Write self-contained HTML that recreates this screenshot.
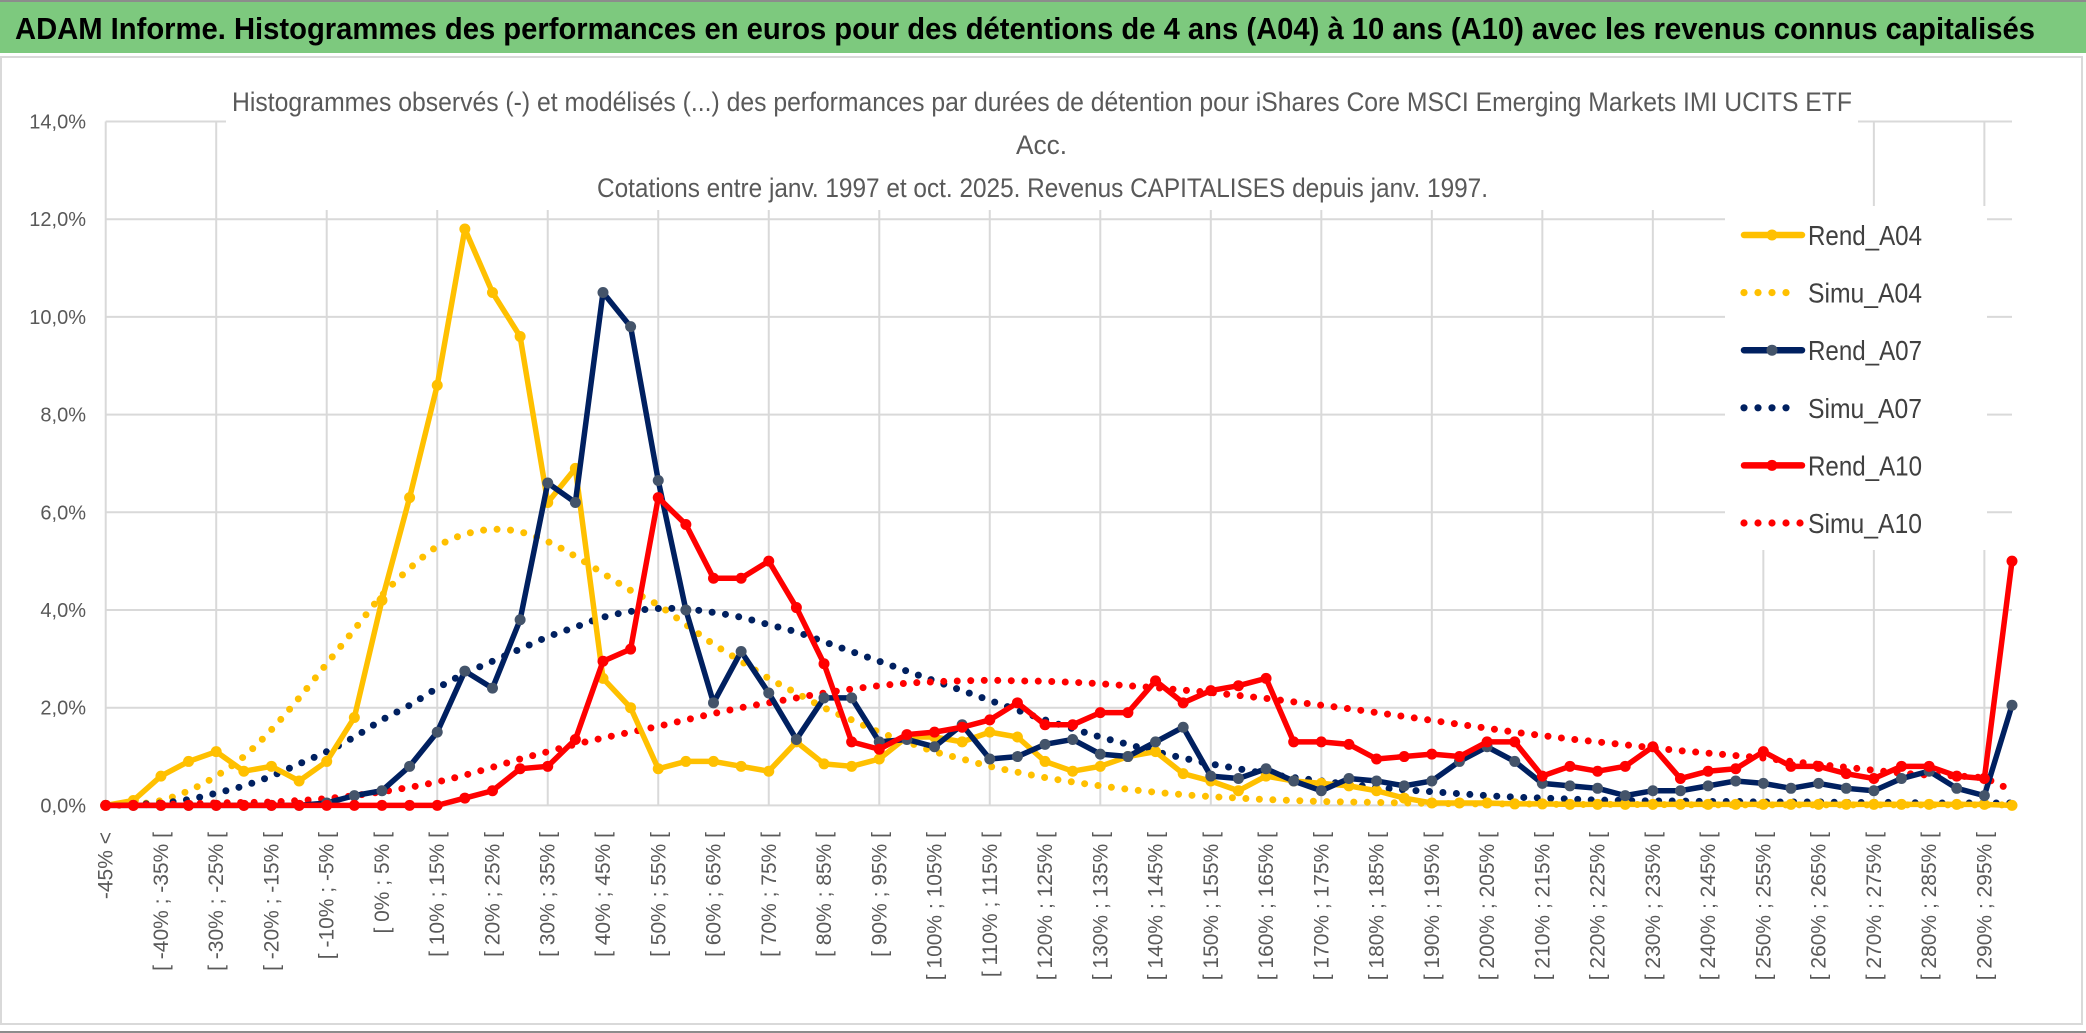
<!DOCTYPE html>
<html><head><meta charset="utf-8"><style>
html,body{margin:0;padding:0;background:#fff;}
svg{display:block;}
text{font-family:"Liberation Sans Narrow","Liberation Sans",sans-serif;}
</style></head><body>
<svg id="chart" width="2086" height="1033" viewBox="0 0 2086 1033" xmlns="http://www.w3.org/2000/svg">
<rect x="0" y="0" width="2086" height="1033" fill="#fff"/>
<rect x="1" y="57" width="2081" height="967" fill="#fff" stroke="#d9d9d9" stroke-width="2"/>
<rect x="0" y="2" width="2086" height="51" fill="#7dc97e"/>
<line x1="0" y1="1" x2="2086" y2="1" stroke="#8c8c8c" stroke-width="2"/>
<line x1="0" y1="1032" x2="2086" y2="1032" stroke="#8c8c8c" stroke-width="2"/>
<text x="15" y="39" font-size="31" font-weight="bold" fill="#000" textLength="2020" lengthAdjust="spacingAndGlyphs">ADAM Informe. Histogrammes des performances en euros pour des détentions de 4 ans (A04) à 10 ans (A10) avec les revenus connus capitalisés</text>
<g id="grid"></g>
<rect x="226" y="70" width="1632" height="140" fill="#fff"/>
<text x="232" y="111" font-size="27" fill="#595959" textLength="1620" lengthAdjust="spacingAndGlyphs">Histogrammes observés (-) et modélisés (...) des performances par durées de détention pour iShares Core MSCI Emerging Markets IMI UCITS ETF</text>
<text x="1016" y="154" font-size="27" fill="#595959" textLength="51" lengthAdjust="spacingAndGlyphs">Acc.</text>
<text x="597" y="197" font-size="27" fill="#595959" textLength="891" lengthAdjust="spacingAndGlyphs">Cotations entre janv. 1997 et oct. 2025. Revenus CAPITALISES depuis janv. 1997.</text>
<g id="yaxis"></g>
<g id="xaxis"></g>
<g id="series"></g>
<g id="legend"></g>
</svg>
<script>
const rendA04 = [0,0.1,0.6,0.9,1.1,0.7,0.8,0.5,0.9,1.8,4.2,6.3,8.6,11.8,10.5,9.6,6.2,6.9,2.6,2.0,0.75,0.9,0.9,0.8,0.7,1.3,0.85,0.8,0.95,1.4,1.4,1.3,1.5,1.4,0.9,0.7,0.8,1.0,1.1,0.65,0.5,0.3,0.6,0.5,0.45,0.4,0.3,0.15,0.05,0.05,0.05,0.03,0.03,0.02,0.02,0.02,0.02,0.02,0.02,0.02,0.02,0.02,0.02,0.02,0.02,0.02,0.02,0.02,0.02,0];
const simuA04 = [0,0.02,0.1,0.3,0.6,1.0,1.55,2.2,2.9,3.6,4.3,4.85,5.3,5.55,5.65,5.6,5.4,5.1,4.75,4.4,4.1,3.7,3.3,2.95,2.6,2.3,2.0,1.75,1.5,1.3,1.1,0.95,0.8,0.68,0.57,0.48,0.4,0.33,0.27,0.22,0.18,0.15,0.12,0.1,0.08,0.07,0.06,0.05,0.04,0.035,0.03,0.03,0.025,0.02,0.02,0.02,0.015,0.015,0.01,0.01,0.01,0.01,0.01,0.01,0.01,0.01,0.01,0.01,0.01,0.01];
const rendA07 = [0,0,0,0,0,0,0,0,0.05,0.2,0.3,0.8,1.5,2.75,2.4,3.8,6.6,6.2,10.5,9.8,6.65,4.0,2.1,3.15,2.3,1.35,2.2,2.2,1.3,1.35,1.2,1.65,0.95,1.0,1.25,1.35,1.05,1.0,1.3,1.6,0.6,0.55,0.75,0.5,0.3,0.55,0.5,0.4,0.5,0.9,1.2,0.9,0.45,0.4,0.35,0.2,0.3,0.3,0.4,0.5,0.45,0.35,0.45,0.35,0.3,0.55,0.7,0.35,0.2,2.05];
const simuA07 = [0,0.02,0.05,0.12,0.25,0.4,0.6,0.85,1.1,1.4,1.75,2.05,2.4,2.7,2.95,3.2,3.45,3.65,3.85,3.97,4.03,4.02,3.95,3.85,3.7,3.55,3.35,3.15,2.95,2.75,2.55,2.35,2.15,1.95,1.75,1.57,1.4,1.25,1.1,0.97,0.85,0.75,0.65,0.57,0.5,0.43,0.37,0.32,0.28,0.24,0.2,0.17,0.15,0.13,0.11,0.1,0.09,0.09,0.08,0.08,0.07,0.07,0.07,0.06,0.06,0.06,0.05,0.05,0.05,0.05];
const rendA10 = [0,0,0,0,0,0,0,0,0,0,0,0,0,0.15,0.3,0.75,0.8,1.35,2.95,3.2,6.3,5.75,4.65,4.65,5.0,4.05,2.9,1.3,1.15,1.45,1.5,1.6,1.75,2.1,1.65,1.65,1.9,1.9,2.55,2.1,2.35,2.45,2.6,1.3,1.3,1.25,0.95,1.0,1.05,1.0,1.3,1.3,0.6,0.8,0.7,0.8,1.2,0.55,0.7,0.75,1.1,0.8,0.8,0.65,0.55,0.8,0.8,0.6,0.55,5.0];
const simuA10 = [0,0.01,0.02,0.03,0.05,0.06,0.07,0.1,0.14,0.2,0.28,0.37,0.48,0.62,0.78,0.95,1.1,1.25,1.38,1.5,1.62,1.75,1.88,2.0,2.1,2.2,2.3,2.38,2.45,2.5,2.53,2.55,2.56,2.55,2.54,2.52,2.49,2.45,2.41,2.36,2.31,2.25,2.19,2.12,2.05,1.98,1.9,1.82,1.74,1.66,1.58,1.5,1.43,1.36,1.3,1.24,1.18,1.12,1.07,1.02,0.97,0.9,0.84,0.78,0.72,0.66,0.62,0.6,0.55,0.3];
const yTicks = [0,2,4,6,8,10,12,14];
const firstLabel = "-45% <";
const binStart = -45;
const binWidth = 5;

const NS = "http://www.w3.org/2000/svg";
const X0 = 105.7, X1 = 2012, Y0 = 805.4, PER = 48.85;
const N = rendA04.length;
function xs(i){ return X0 + i*(X1-X0)/(N-1); }
function ys(v){ return Y0 - v*PER; }
function mk(tag, attrs, parent){ const e=document.createElementNS(NS,tag); for(const k in attrs) e.setAttribute(k,attrs[k]); parent.appendChild(e); return e; }
function catLabel(i){
  if(i===0) return firstLabel;
  const lo = binStart + binWidth*(i-1);
  return "[ " + lo + "% ; " + (lo+binWidth) + "% [";
}

const grid = document.getElementById('grid');
yTicks.forEach(t=>{
  const l = mk('line',{x1:X0,x2:X1,y1:ys(t),y2:ys(t),stroke:'#d9d9d9','stroke-width':2},grid);
  
  
});
for(let i=0;i<N;i+=4){
  const l = mk('line',{x1:xs(i),x2:xs(i),y1:ys(14),y2:ys(0),stroke:'#d9d9d9','stroke-width':2},grid);
  
  
}
const yaxis = document.getElementById('yaxis');
yTicks.forEach(t=>{
  const tx = mk('text',{x:86,y:ys(t)+7,'text-anchor':'end','font-size':20,fill:'#595959'},yaxis);
  tx.textContent = t.toFixed(1).replace('.',',') + '%';
  
  
});
const xaxis = document.getElementById('xaxis');
for(let i=0;i<N;i+=2){
  const x = xs(i)+7;
  const tx = mk('text',{x:x,y:832,'text-anchor':'end','font-size':21,fill:'#595959',transform:'rotate(-90 '+x+' 832)'},xaxis);
  tx.textContent = catLabel(i);
  
  
}

function smoothPath(vals){
  const p = vals.map((v,i)=>[xs(i),ys(v)]);
  let d = 'M'+p[0][0]+','+p[0][1];
  for(let i=0;i<p.length-1;i++){
    const p0=p[Math.max(0,i-1)], p1=p[i], p2=p[i+1], p3=p[Math.min(p.length-1,i+2)];
    const c1x=p1[0]+(p2[0]-p0[0])/6, c1y=p1[1]+(p2[1]-p0[1])/6;
    const c2x=p2[0]-(p3[0]-p1[0])/6, c2y=p2[1]-(p3[1]-p1[1])/6;
    d += ' C'+c1x+','+c1y+' '+c2x+','+c2y+' '+p2[0]+','+p2[1];
  }
  return d;
}
const series = document.getElementById('series');
function drawSimu(vals, color, name){
  const p = mk('path',{d:smoothPath(vals),fill:'none',stroke:color,'stroke-width':7,'stroke-linecap':'round','stroke-dasharray':'0 13.5'},series);
  
  
}
function drawRend(vals, color, mColor, name){
  const g = mk('g',{},series);
  
  
  const pts = vals.map((v,i)=>xs(i)+','+ys(v)).join(' ');
  mk('polyline',{points:pts,fill:'none',stroke:color,'stroke-width':5.5,'stroke-linejoin':'round'},g);
  vals.forEach((v,i)=>{
    const c = mk('circle',{cx:xs(i),cy:ys(v),r:5.5,fill:mColor},g);
    
    
  });
}
drawSimu(simuA04,'#ffc000','simu-a04-line');
drawSimu(simuA07,'#002060','simu-a07-line');
drawSimu(simuA10,'#ff0000','simu-a10-line');
drawRend(rendA04,'#ffc000','#ffc000','rend-a04-line');
drawRend(rendA07,'#002060','#44546a','rend-a07-line');
drawRend(rendA10,'#ff0000','#ff0000','rend-a10-line');

const legend = document.getElementById('legend');
mk('rect',{x:1725,y:206,width:262,height:344,fill:'#fff'},legend);
const leg = [
  ['Rend_A04','#ffc000','#ffc000',false],
  ['Simu_A04','#ffc000',null,true],
  ['Rend_A07','#002060','#44546a',false],
  ['Simu_A07','#002060',null,true],
  ['Rend_A10','#ff0000','#ff0000',false],
  ['Simu_A10','#ff0000',null,true]
];
leg.forEach((e,k)=>{
  const y = 235 + k*57.6;
  const g = mk('g',{},legend);
  
  
  if(e[3]){
    const n = e[0]==='Simu_A10'?5:4;
    for(let j=0;j<n;j++) mk('circle',{cx:1744+j*14,cy:y,r:3.6,fill:e[1]},g);
  } else {
    mk('line',{x1:1744,x2:1802,y1:y,y2:y,stroke:e[1],'stroke-width':6.5,'stroke-linecap':'round'},g);
    mk('circle',{cx:1772,cy:y,r:5.5,fill:e[2]},g);
  }
  const t = mk('text',{x:1808,y:y+10,'font-size':28,fill:'#404040',textLength:114,lengthAdjust:'spacingAndGlyphs'},g);
  t.textContent = e[0];
});
</script>
</body></html>
